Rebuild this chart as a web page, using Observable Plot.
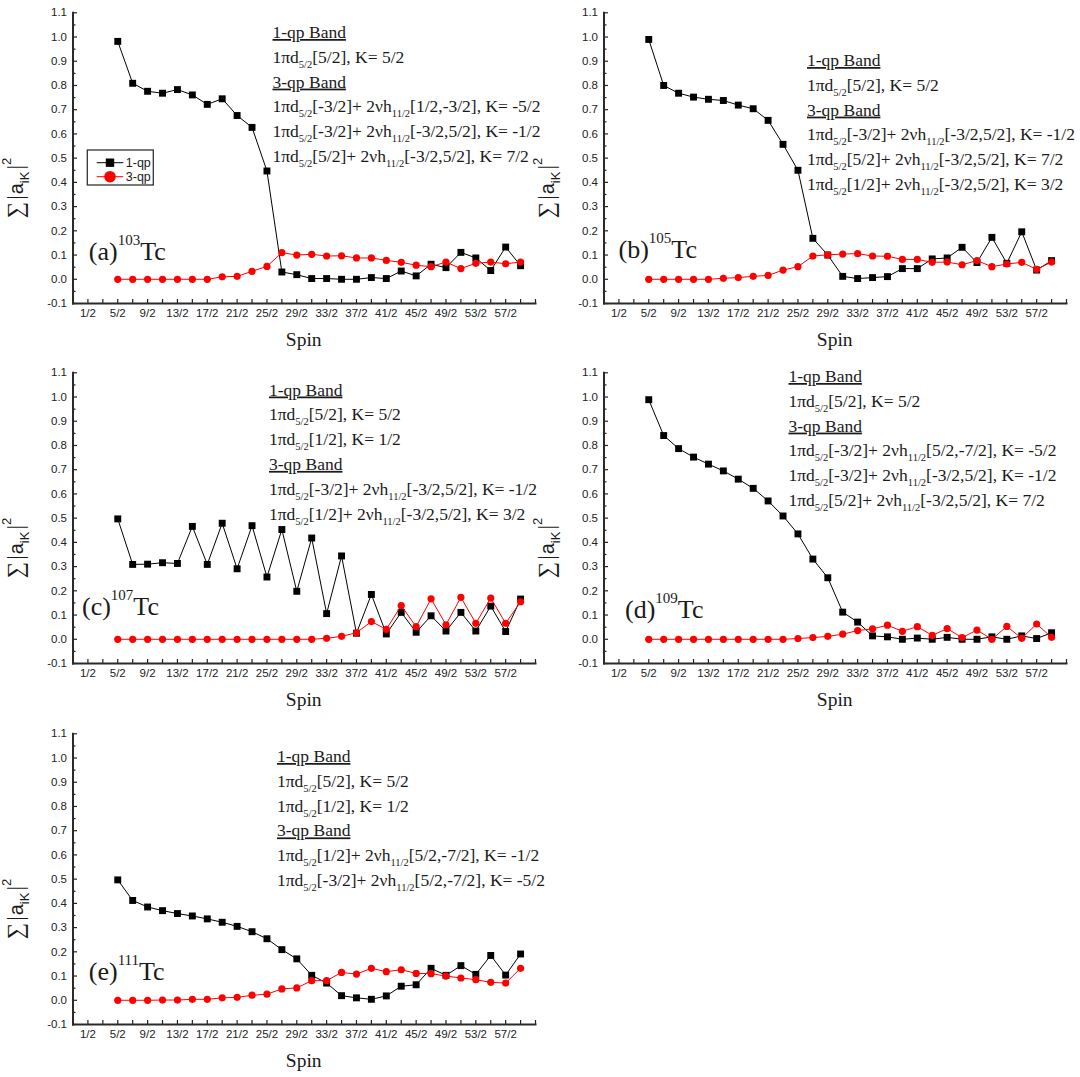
<!DOCTYPE html>
<html>
<head>
<meta charset="utf-8">
<script src="https://cdn.jsdelivr.net/npm/d3@7"></script>
<script src="https://cdn.jsdelivr.net/npm/@observablehq/plot@0.6"></script>
<style>
  body { margin: 0; background: #fff; }
  #fig { position: relative; width: 1080px; height: 1077px; background: #fff; overflow: hidden; }
  #fig svg { position: absolute; }
</style>
</head>
<body>
<div id="fig"></div>
<script>
// Spin states of the yrast band (x axis)
const spins = ["5/2","7/2","9/2","11/2","13/2","15/2","17/2","19/2","21/2","23/2","25/2","27/2","29/2",
  "31/2","33/2","35/2","37/2","39/2","41/2","43/2","45/2","47/2","49/2","51/2","53/2","55/2","57/2","59/2"];

// Axis ticks
const xTickLabels = ["1/2","5/2","9/2","13/2","17/2","21/2","25/2","29/2","33/2","37/2","41/2","45/2","49/2","53/2","57/2"];
const xMinorTicks = ["3/2","7/2","11/2","15/2","19/2","23/2","27/2","31/2","35/2","39/2","43/2","47/2","51/2","55/2","59/2","61/2"];
const yTickLabels = ["-0.1","0.0","0.1","0.2","0.3","0.4","0.5","0.6","0.7","0.8","0.9","1.0","1.1"];
const yMinorTicks = [-0.05,0.05,0.15,0.25,0.35,0.45,0.55,0.65,0.75,0.85,0.95,1.05];

const seriesNames = ["1-qp", "3-qp"];

// Sum of squared amplitudes, sum |a_iK|^2, per spin
const tc103_1qp = [0.982,0.809,0.776,0.768,0.783,0.761,0.722,0.745,0.676,0.627,0.447,0.030,0.019,0.003,
  0.003,0.000,0.000,0.007,0.003,0.034,0.014,0.062,0.048,0.111,0.088,0.036,0.133,0.056];
const tc103_3qp = [0.000,0.000,0.000,0.000,0.000,0.000,0.000,0.010,0.012,0.033,0.053,0.110,0.100,0.103,
  0.096,0.097,0.088,0.088,0.078,0.070,0.058,0.052,0.071,0.044,0.066,0.071,0.064,0.071];

const tc105_1qp = [0.990,0.800,0.768,0.752,0.743,0.738,0.719,0.704,0.656,0.557,0.450,0.169,0.100,0.012,
  0.003,0.007,0.011,0.044,0.044,0.084,0.088,0.132,0.069,0.173,0.066,0.196,0.038,0.077];
const tc105_3qp = [0.000,0.000,0.000,0.000,0.000,0.004,0.007,0.012,0.016,0.038,0.052,0.096,0.101,0.104,
  0.106,0.096,0.095,0.082,0.082,0.070,0.071,0.060,0.077,0.052,0.063,0.070,0.041,0.071];

const tc107_1qp = [0.497,0.309,0.310,0.316,0.313,0.466,0.309,0.479,0.291,0.469,0.257,0.453,0.198,0.418,
  0.106,0.344,0.025,0.185,0.022,0.111,0.029,0.097,0.034,0.111,0.034,0.137,0.032,0.166];
const tc107_3qp = [0.000,0.000,0.000,0.000,0.000,0.000,0.000,0.000,0.000,0.000,0.000,0.000,0.000,0.000,
  0.004,0.012,0.027,0.073,0.041,0.139,0.052,0.167,0.060,0.173,0.066,0.170,0.066,0.155];

const tc109_1qp = [0.989,0.841,0.787,0.752,0.723,0.695,0.661,0.623,0.571,0.509,0.435,0.331,0.254,0.112,
  0.071,0.014,0.010,0.000,0.005,0.000,0.008,0.000,0.000,0.010,0.000,0.014,0.003,0.027];
const tc109_3qp = [0.000,0.000,0.000,0.000,0.000,0.000,0.000,0.000,0.000,0.000,0.003,0.007,0.012,0.021,
  0.036,0.043,0.058,0.033,0.052,0.016,0.044,0.007,0.038,0.000,0.053,0.004,0.063,0.008];

const tc111_1qp = [0.497,0.412,0.385,0.370,0.358,0.348,0.336,0.322,0.305,0.283,0.254,0.209,0.171,0.103,
  0.071,0.019,0.010,0.004,0.018,0.058,0.064,0.132,0.103,0.143,0.107,0.185,0.104,0.191];
const tc111_3qp = [0.000,0.000,0.000,0.001,0.001,0.004,0.004,0.010,0.012,0.021,0.025,0.047,0.051,0.081,
  0.081,0.115,0.108,0.132,0.118,0.126,0.111,0.110,0.100,0.092,0.085,0.074,0.071,0.132];

// Band configurations (_{..} = subscript)
const notes103 = ["1-qp Band", "1πd_{5/2}[5/2], K= 5/2", "3-qp Band",
  "1πd_{5/2}[-3/2]+ 2νh_{11/2}[1/2,-3/2], K= -5/2",
  "1πd_{5/2}[-3/2]+ 2νh_{11/2}[-3/2,5/2], K= -1/2",
  "1πd_{5/2}[5/2]+ 2νh_{11/2}[-3/2,5/2], K= 7/2"];
const notes105 = ["1-qp Band", "1πd_{5/2}[5/2], K= 5/2", "3-qp Band",
  "1πd_{5/2}[-3/2]+ 2νh_{11/2}[-3/2,5/2], K= -1/2",
  "1πd_{5/2}[5/2]+ 2νh_{11/2}[-3/2,5/2], K= 7/2",
  "1πd_{5/2}[1/2]+ 2νh_{11/2}[-3/2,5/2], K= 3/2"];
const notes107 = ["1-qp Band", "1πd_{5/2}[5/2], K= 5/2", "1πd_{5/2}[1/2], K= 1/2", "3-qp Band",
  "1πd_{5/2}[-3/2]+ 2νh_{11/2}[-3/2,5/2], K= -1/2",
  "1πd_{5/2}[1/2]+ 2νh_{11/2}[-3/2,5/2], K= 3/2"];
const notes109 = ["1-qp Band", "1πd_{5/2}[5/2], K= 5/2", "3-qp Band",
  "1πd_{5/2}[-3/2]+ 2νh_{11/2}[5/2,-7/2], K= -5/2",
  "1πd_{5/2}[-3/2]+ 2νh_{11/2}[-3/2,5/2], K= -1/2",
  "1πd_{5/2}[5/2]+ 2νh_{11/2}[-3/2,5/2], K= 7/2"];
const notes111 = ["1-qp Band", "1πd_{5/2}[5/2], K= 5/2", "1πd_{5/2}[1/2], K= 1/2", "3-qp Band",
  "1πd_{5/2}[1/2]+ 2νh_{11/2}[5/2,-7/2], K= -1/2",
  "1πd_{5/2}[-3/2]+ 2νh_{11/2}[5/2,-7/2], K= -5/2"];

const SERIF = "'Liberation Serif', 'Times New Roman', serif";
const SANS = "'Liberation Sans', Arial, sans-serif";
const INK = "#1a1a1a";

const parseSpin = s => { const [n, d] = s.split("/").map(Number); return n / d; };

// Text with _{sub} and ^{sup} runs
function rich(parent, str, {x, y, size, family, small = size * 0.6, sub = size * 0.3, sup = size * 0.55,
                            anchor = "start", underline = false, fill = INK}) {
  const t = parent.append("text").attr("x", x).attr("y", y)
    .attr("font-family", family).attr("font-size", size).attr("fill", fill)
    .attr("text-anchor", anchor);
  if (underline) t.attr("text-decoration", "underline");
  let cur = 0;
  const put = (s, off, fs) => {
    const ts = t.append("tspan").attr("dy", off - cur).text(s);
    if (fs) ts.attr("font-size", fs);
    cur = off;
  };
  const re = /([_^])\{([^}]*)\}/g;
  let last = 0, m;
  while ((m = re.exec(str))) {
    if (m.index > last) put(str.slice(last, m.index), 0);
    put(m[2], m[1] === "_" ? sub : -sup, small);
    last = re.lastIndex;
  }
  if (last < str.length) put(str.slice(last), 0);
  return t;
}

const panels = [
  {tag: "a", mass: "103", one: tc103_1qp, three: tc103_3qp, notes: notes103, left: 0,   top: 0,   noteX: 272.5, noteY: 38, tagX: 88.8, tagY: 260, legend: true},
  {tag: "b", mass: "105", one: tc105_1qp, three: tc105_3qp, notes: notes105, left: 531, top: 0,   noteX: 276,   noteY: 66, tagX: 87.5, tagY: 258},
  {tag: "c", mass: "107", one: tc107_1qp, three: tc107_3qp, notes: notes107, left: 0,   top: 360, noteX: 269,   noteY: 35.5, tagX: 82, tagY: 255},
  {tag: "d", mass: "109", one: tc109_1qp, three: tc109_3qp, notes: notes109, left: 531, top: 360, noteX: 257.5, noteY: 22, tagX: 94, tagY: 258},
  {tag: "e", mass: "111", one: tc111_1qp, three: tc111_3qp, notes: notes111, left: 0,   top: 721, noteX: 277,   noteY: 41, tagX: 88.8, tagY: 259}
];

const xMajor = xTickLabels.map(parseSpin);
const xAll = xMajor.concat(xMinorTicks.map(parseSpin));
const yMajor = yTickLabels.map(Number);
const yLabelOf = new Map(yMajor.map((v, i) => [v, yTickLabels[i]]));
const xLabelOf = new Map(xMajor.map((v, i) => [v, xTickLabels[i]]));

const fig = d3.select("#fig");

for (const p of panels) {
  const rowsOne = spins.map((s, i) => ({spin: parseSpin(s), v: p.one[i]}));
  const rowsThree = spins.map((s, i) => ({spin: parseSpin(s), v: p.three[i]}));

  const svg = Plot.plot({
    width: 540, height: 360,
    marginLeft: 72.5, marginRight: 5, marginTop: 12.3, marginBottom: 57,
    style: {background: "transparent", overflow: "visible", fontFamily: SANS, fontSize: "11px", color: INK},
    x: {domain: [-0.5, 30.5]},
    y: {domain: [-0.1, 1.1]},
    marks: [
      // inward ticks
      Plot.axisX({ticks: xAll, tickSize: -4, fill: "none", stroke: "#222", strokeWidth: 1.2, label: null}),
      Plot.axisY({ticks: yMajor, tickSize: -4.5, fill: "none", stroke: "#222", strokeWidth: 1.2, label: null}),
      Plot.axisY({ticks: yMinorTicks, tickSize: -3, fill: "none", stroke: "#222", strokeWidth: 1.2, label: null}),
      // tick labels
      Plot.axisX({ticks: xMajor, tickSize: 0, tickPadding: 5, tickFormat: d => xLabelOf.get(d), fill: "#222", fontSize: 11.5, label: null}),
      Plot.axisY({ticks: yMajor, tickSize: 0, tickPadding: 6, tickFormat: d => yLabelOf.get(d), fill: "#222", fontSize: 11.5, label: null}),
      // axis lines
      Plot.frame({anchor: "left", stroke: "#2a2a2a", strokeWidth: 2}),
      Plot.frame({anchor: "bottom", stroke: "#2a2a2a", strokeWidth: 2}),
      // series
      Plot.line(rowsOne, {x: "spin", y: "v", stroke: "#000", strokeWidth: 1}),
      Plot.dot(rowsOne, {x: "spin", y: "v", symbol: "square", fill: "#000", r: 3.9}),
      Plot.line(rowsThree, {x: "spin", y: "v", stroke: "#ff0000", strokeWidth: 1}),
      Plot.dot(rowsThree, {x: "spin", y: "v", symbol: "circle", fill: "#ff0000", r: 3.6})
    ]
  });
  svg.style.left = p.left + "px";
  svg.style.top = p.top + "px";
  fig.node().appendChild(svg);

  const g = d3.select(svg).append("g").attr("text-anchor", "start");
  const xs = svg.scale("x"), ys = svg.scale("y");
  const [x0, x1] = xs.range;
  const [yb] = ys.range;

  // axis titles
  g.append("text").attr("x", (x0 + x1) / 2).attr("y", yb + 43)
    .attr("text-anchor", "middle").attr("font-family", SERIF).attr("font-size", 19.5)
    .attr("fill", INK).text("Spin");

  const yl = g.append("text").attr("transform", `translate(23,188) rotate(-90)`)
    .attr("text-anchor", "middle").attr("fill", INK).attr("font-size", 23).attr("font-family", SERIF);
  yl.append("tspan").text("∑");
  yl.append("tspan").attr("dx", 2).text("|");
  yl.append("tspan").attr("dx", 1).attr("font-family", SANS).attr("font-size", 20).text("a");
  yl.append("tspan").attr("font-family", SANS).attr("font-size", 13).attr("dy", 6).text("iK");
  yl.append("tspan").attr("dx", 2).attr("dy", -6).text("|");
  yl.append("tspan").attr("font-family", SANS).attr("font-size", 13).attr("dy", -12).text("2");

  // nucleus tag
  rich(g, `(${p.tag})^{${p.mass}}Tc`, {x: p.tagX, y: p.tagY, size: 26, family: SERIF, small: 15, sup: 15});

  // band configurations
  p.notes.forEach((line, i) => {
    rich(g, line, {x: p.noteX, y: p.noteY + i * 24.8, size: 17.5, family: SERIF, small: 10.5, sub: 5,
                   underline: /Band$/.test(line)});
  });

  // legend
  if (p.legend) {
    const lg = g.append("g").attr("transform", "translate(87.3,150)");
    lg.append("rect").attr("width", 66).attr("height", 35).attr("fill", "#fff")
      .attr("stroke", "#333").attr("stroke-width", 1.3);
    const colors = ["#000", "#ff0000"];
    seriesNames.forEach((name, i) => {
      const cy = 12.7 + i * 14;
      lg.append("line").attr("x1", 9.4).attr("x2", 36).attr("y1", cy).attr("y2", cy)
        .attr("stroke", colors[i]).attr("stroke-width", 1);
      if (i === 0) lg.append("rect").attr("x", 22.7 - 4.2).attr("y", cy - 4.2).attr("width", 8.4).attr("height", 8.4).attr("fill", colors[i]);
      else lg.append("circle").attr("cx", 22.7).attr("cy", cy).attr("r", 5.8).attr("fill", colors[i]);
      lg.append("text").attr("x", 38.5).attr("y", cy).attr("dy", "0.35em").attr("text-anchor", "start")
        .attr("font-family", SANS).attr("font-size", 12.5).attr("fill", INK).text(name);
    });
  }
}
</script>
</body>
</html>
